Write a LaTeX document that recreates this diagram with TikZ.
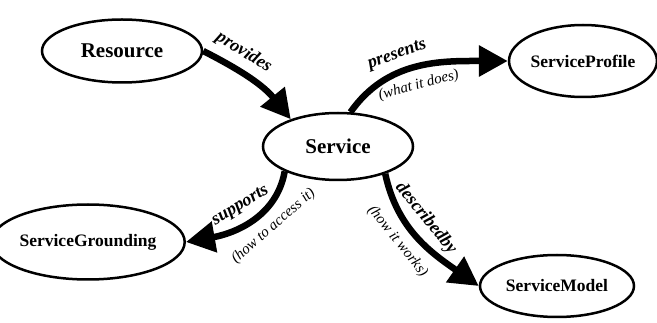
\documentclass[tikz,border=0pt]{standalone}
\usepackage{fontspec}
\setmainfont{Liberation Serif}
\usetikzlibrary{shapes.geometric,arrows.meta}
\begin{document}
\begin{tikzpicture}[x=1pt,y=1pt,
  concept/.style={ellipse,draw,line width=2.5pt,inner sep=0pt,font=\bfseries\fontsize{17.5}{19}\selectfont},
  big/.style={font=\bfseries\fontsize{21}{23}\selectfont},
  rel/.style={line width=6.5pt,-{Triangle[length=29pt,width=30pt]}},
  lbl/.style={font=\bfseries\itshape\fontsize{18}{20}\selectfont,inner sep=0pt,sloped},
  note/.style={font=\itshape\fontsize{15}{17}\selectfont,inner sep=0pt,sloped}]
\useasboundingbox (0,0) rectangle (657,-323);
\node[concept,big,minimum width=160pt,minimum height=63pt] (res) at (122,-51) {Resource};
\node[concept,big,minimum width=150pt,minimum height=67pt] (svc) at (338,-146.5) {Service};
\node[concept,minimum width=146pt,minimum height=72pt] (prof) at (583,-61) {ServiceProfile};
\node[concept,minimum width=156pt,minimum height=75pt] (grd) at (88,-242) {ServiceGrounding};
\node[concept,minimum width=154pt,minimum height=62pt] (mod) at (557,-286) {ServiceModel};
\draw[rel] (res.0) to[out=-27,in=129]
  node[lbl,above=7pt,pos=0.3] (lprov) {provides} (svc.150);
\draw[rel] (svc.70) to[out=55,in=180]
  node[lbl,above=7pt,pos=0.4] (lpres) {presents}
  node[note,below=8pt,pos=0.47] (npres) {(what it does)} (prof.180);
\draw[rel] (svc.205) to[out=-100,in=10]
  node[lbl,above=7pt,pos=0.5] (lsup) {supports}
  node[note,below=8pt,pos=0.38] (nsup) {(how to access it)} (grd.0);
\draw[rel] (svc.-30) to[out=-78,in=145]
  node[lbl,above=7pt,pos=0.42] (ldesc) {describedby}
  node[note,below=8pt,pos=0.42] (ndesc) {(how it works)} (mod.180);
\end{tikzpicture}
\end{document}
